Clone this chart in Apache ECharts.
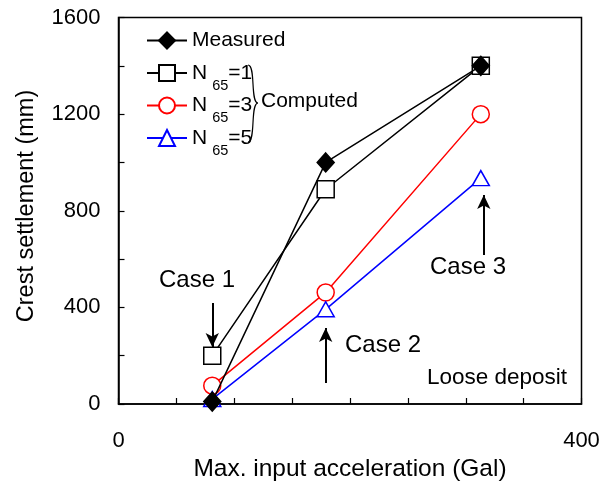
<!DOCTYPE html>
<html><head><meta charset="utf-8">
<script src="https://cdn.jsdelivr.net/npm/echarts@6/dist/echarts.min.js"></script>
<style>html,body{margin:0;padding:0;background:#fff}#c{width:613px;height:481px}</style>
</head><body><div id="c"></div>
<script>
const acc = [81, 179, 313];
const measured = [10, 1000, 1400];
const n65_1 = [200, 889, 1400];
const n65_3 = [76, 462, 1200];
const n65_5 = [20, 392, 935];
const xTickLabels = [0, 400];
const yTickLabels = [0, 400, 800, 1200, 1600];
// annotation arrows in data coordinates [x, yFrom, yTo]
const arrows = [[81, 418, 236], [179, 87, 315], [315.6, 617, 865]];

const FONT = 'Liberation Sans, Arial, sans-serif';
const chart = echarts.init(document.getElementById('c'), null, {renderer: 'canvas'});
const pair = v => acc.map((x, i) => [x, v[i]]);

function mk(name, data, color, symbol, size, filled, z) {
  return {
    name, type: 'line', data: pair(data), z,
    symbol, symbolSize: size, showSymbol: true,
    lineStyle: {color, width: 1.5},
    itemStyle: {color: filled ? color : '#fff', borderColor: color, borderWidth: 1.5},
    emphasis: {disabled: true}, animation: false
  };
}

const s = [
  mk('Measured', measured, '#000', 'diamond', [17, 19], true, 5),
  mk('N65=1', n65_1, '#000', 'rect', 17, false, 3),
  mk('N65=3', n65_3, '#ff0000', 'circle', 17, false, 3),
  mk('N65=5', n65_5, '#0000ff', 'triangle', [17, 15], false, 4)
];
s.push({
  type: 'line', data: [], silent: true,
  markLine: {
    silent: true, animation: false,
    symbol: ['none', 'arrow'], symbolSize: [10, 14],
    lineStyle: {color: '#000', width: 2, type: 'solid'},
    label: {show: false},
    data: arrows.map(a => [{coord: [a[0], a[1]]}, {coord: [a[0], a[2]]}])
  }
});

chart.setOption({
  animation: false,
  grid: {left: 118.5, right: 31.5, top: 17.5, bottom: 77, show: true, borderColor: '#000', borderWidth: 1.5,
         containLabel: false, outerBoundsMode: 'none'},
  legend: {
    left: 141, top: 25, orient: 'vertical', itemWidth: 40, itemHeight: 20, itemGap: 2,
    data: ['Measured', 'N65=1', 'N65=3', 'N65=5'],
    selectedMode: false,
    formatter: n => n.startsWith('N65') ? '{n|N}{s|65}{n|' + n.slice(3) + '}' : '{n|' + n + '}{s| }',
    textStyle: {
      fontFamily: FONT, fontSize: 21, color: '#000',
      rich: {
        n: {fontFamily: FONT, fontSize: 21, color: '#000', lineHeight: 20},
        s: {fontFamily: FONT, fontSize: 14.5, color: '#000', verticalAlign: 'bottom', padding: [0, 0, -10, 5], lineHeight: 20}
      }
    }
  },
  xAxis: {
    type: 'value', min: 0, max: 400, interval: 50,
    name: 'Max. input acceleration (Gal)', nameLocation: 'middle', nameGap: 51,
    nameTextStyle: {fontFamily: FONT, fontSize: 24.5, color: '#000', verticalAlign: 'top'},
    axisLine: {lineStyle: {color: '#000', width: 1.5}},
    axisTick: {inside: true, length: 6, lineStyle: {color: '#000', width: 1.2}},
    axisLabel: {
      margin: 26, fontFamily: FONT, fontSize: 22, color: '#000',
      formatter: v => xTickLabels.includes(v) ? String(v) : ''
    },
    splitLine: {show: false}
  },
  yAxis: {
    type: 'value', min: 0, max: 1600, interval: 200,
    axisLine: {lineStyle: {color: '#000', width: 1.5}},
    axisTick: {inside: true, length: 6, lineStyle: {color: '#000', width: 1.2}},
    axisLabel: {
      margin: 18, fontFamily: FONT, fontSize: 22, color: '#000',
      formatter: v => yTickLabels.includes(v) ? String(v) : ''
    },
    splitLine: {show: false}
  },
  graphic: [
    {type: 'text', x: 27, y: 206, rotation: Math.PI / 2,
     style: {text: 'Crest settlement (mm)', font: '23.5px ' + FONT, fill: '#000', align: 'center', verticalAlign: 'middle'}},
    {type: 'bezierCurve', shape: {x1: 248, y1: 65, cpx1: 256, cpy1: 65, cpx2: 250, cpy2: 103, x2: 258, y2: 103},
     style: {stroke: '#000', fill: 'none', lineWidth: 1.2}},
    {type: 'bezierCurve', shape: {x1: 258, y1: 103, cpx1: 250, cpy1: 103, cpx2: 256, cpy2: 142, x2: 248, y2: 142},
     style: {stroke: '#000', fill: 'none', lineWidth: 1.2}},
    {type: 'text', x: 261, y: 101, style: {text: 'Computed', font: '21px ' + FONT, fill: '#000', verticalAlign: 'middle'}},
    {type: 'text', x: 197, y: 280, style: {text: 'Case 1', font: '24px ' + FONT, fill: '#000', align: 'center', verticalAlign: 'middle'}},
    {type: 'text', x: 345, y: 345, style: {text: 'Case 2', font: '24px ' + FONT, fill: '#000', align: 'left', verticalAlign: 'middle'}},
    {type: 'text', x: 468, y: 267, style: {text: 'Case 3', font: '24px ' + FONT, fill: '#000', align: 'center', verticalAlign: 'middle'}},
    {type: 'text', x: 567, y: 378, style: {text: 'Loose deposit', font: '22.5px ' + FONT, fill: '#000', align: 'right', verticalAlign: 'middle'}}
  ],
  series: s
});
</script></body></html>
